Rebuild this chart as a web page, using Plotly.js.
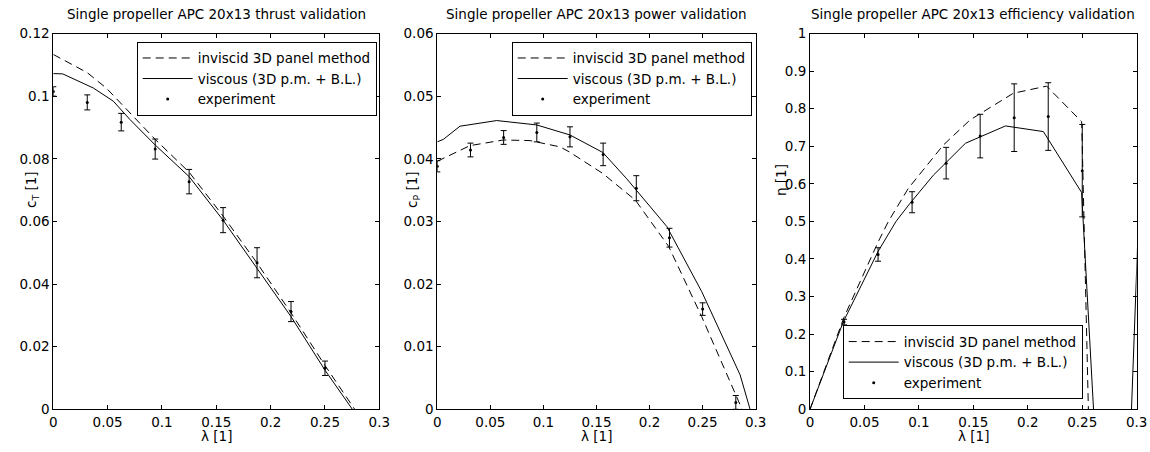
<!DOCTYPE html>
<html>
<head>
<meta charset="utf-8">
<script src="https://cdn.plot.ly/plotly-3.0.1.min.js"></script>
<style>html,body{margin:0;padding:0;background:#fff;}#chart{width:1150px;height:452px;}</style>
</head>
<body>
<div id="chart"></div>
<script>
// ---------- data ----------
var lamExp = [0, 0.03125, 0.0625, 0.09375, 0.125, 0.15625, 0.1875, 0.21875, 0.25, 0.28125];

// thrust coefficient
var ctExp = [0.1015, 0.098, 0.0917, 0.0831, 0.0727, 0.0604, 0.0468, 0.0312, 0.0131, null];
var ctErr = [0.0015, 0.0024, 0.0028, 0.0032, 0.0039, 0.0040, 0.0048, 0.0032, 0.0023, null];
var ctInvLam = [0, 0.0153, 0.03125, 0.049, 0.0625, 0.09375, 0.125, 0.15625, 0.1875, 0.21875, 0.25, 0.28125];
var ctInv = [0.1133, 0.1105, 0.1075, 0.1025, 0.0975, 0.0862, 0.0757, 0.0617, 0.0467, 0.0308, 0.0140, -0.0020];
var ctVisLam = [0, 0.0087, 0.0368, 0.0552, 0.0706, 0.09375, 0.125, 0.15625, 0.1875, 0.21875, 0.25, 0.28125];
var ctVis = [0.1072, 0.1071, 0.1026, 0.0984, 0.0925, 0.0844, 0.0743, 0.0604, 0.0450, 0.0296, 0.0125, -0.0030];

// power coefficient
var cpExp = [0.0388, 0.0414, 0.0434, 0.0442, 0.0435, 0.0407, 0.0353, 0.0274, 0.0160, 0.0011];
var cpErr = [0.0009, 0.0011, 0.0011, 0.0015, 0.0016, 0.0018, 0.0020, 0.0015, 0.0010, 0.0011];
var cpInvLam = [0, 0.0308, 0.0622, 0.0874, 0.1156, 0.1244, 0.1555, 0.1866, 0.218, 0.2491, 0.2805, 0.3];
var cpInv = [0.0396, 0.0421, 0.0430, 0.0429, 0.0419, 0.0411, 0.0377, 0.0334, 0.0260, 0.0148, 0.0026, -0.0050];
var cpVisLam = [0, 0.0057, 0.0214, 0.056, 0.0937, 0.1156, 0.125, 0.156, 0.1785, 0.2162, 0.2491, 0.2853, 0.3];
var cpVis = [0.0427, 0.0431, 0.0452, 0.0461, 0.0454, 0.0443, 0.0438, 0.0410, 0.0368, 0.0292, 0.0188, 0.0055, -0.0031];

// efficiency
var etaExp = [null, 0.232, 0.412, 0.551, 0.655, 0.727, 0.776, 0.779, 0.635, null];
var etaErr = [null, 0.0075, 0.018, 0.028, 0.042, 0.058, 0.090, 0.090, 0.123, null];
var etaInvLam = [0, 0.03125, 0.0625, 0.072, 0.0903, 0.1224, 0.147, 0.1867, 0.2173, 0.2495, 0.28125];
var etaInv = [0, 0.245, 0.445, 0.5, 0.588, 0.703, 0.77, 0.841, 0.860, 0.765, -3.2];
var etaVisLam = [0, 0.0306, 0.0625, 0.079, 0.0918, 0.1133, 0.1428, 0.1795, 0.2143, 0.2494, 0.28125, 0.3125];
var etaVis = [0, 0.233, 0.42, 0.5, 0.548, 0.623, 0.708, 0.754, 0.739, 0.577, -1.1, 1.36];

var names = ['inviscid 3D panel method', 'viscous (3D p.m. + B.L.)', 'experiment'];
var titles = ['Single propeller APC 20x13 thrust validation',
              'Single propeller APC 20x13 power validation',
              'Single propeller APC 20x13 efficiency validation'];

// ---------- styling ----------
var FONT = 'DejaVu Sans, Liberation Sans, sans-serif';
var FS = 13.5;
var W = 1150, H = 452;
function px(x) { return x / W; }
function py(y) { return 1 - y / H; }

function curves(xa, ya, leg, invL, inv, visL, vis, ex, er) {
  var sx = xa === 1 ? 'x' : 'x' + xa;
  var sy = ya === 1 ? 'y' : 'y' + ya;
  return [
    {x: invL, y: inv, xaxis: sx, yaxis: sy, type: 'scatter', mode: 'lines', name: names[0], legend: leg,
     line: {color: '#000', width: 1, dash: '8px,5px'}},
    {x: visL, y: vis, xaxis: sx, yaxis: sy, type: 'scatter', mode: 'lines', name: names[1], legend: leg,
     line: {color: '#000', width: 1}},
    {x: lamExp, y: ex, xaxis: sx, yaxis: sy, type: 'scatter', mode: 'markers', name: names[2], legend: leg,
     marker: {color: '#000', size: 3},
     error_y: {type: 'data', array: er, visible: true, color: '#000', thickness: 1, width: 3}}
  ];
}

var data = [].concat(
  curves(1, 1, 'legend', ctInvLam, ctInv, ctVisLam, ctVis, ctExp, ctErr),
  curves(2, 2, 'legend2', cpInvLam, cpInv, cpVisLam, cpVis, cpExp, cpErr),
  curves(3, 3, 'legend3', etaInvLam, etaInv, etaVisLam, etaVis, etaExp, etaErr)
);

var yDom = [py(409.3), py(33.5)];
function xax(dom) {
  return {domain: dom, range: [0, 0.3], dtick: 0.05, tick0: 0, ticks: 'inside', ticklen: 4,
          tickcolor: '#000', showline: true, linecolor: '#000', linewidth: 1, mirror: 'ticks',
          showgrid: false, zeroline: false, tickfont: {family: FONT, size: FS, color: '#000'}, fixedrange: true};
}
function yax(anchor, rng, dt) {
  return {domain: yDom, anchor: anchor, range: rng, dtick: dt, tick0: 0, ticks: 'inside', ticklen: 4,
          tickcolor: '#000', showline: true, linecolor: '#000', linewidth: 1, mirror: 'ticks',
          showgrid: false, zeroline: false, tickfont: {family: FONT, size: FS, color: '#000'}, fixedrange: true};
}
function legendAt(x, y, ya) {
  return {x: x, y: y, xanchor: 'right', yanchor: ya, xref: 'paper', yref: 'paper',
          bgcolor: '#fff', bordercolor: '#000', borderwidth: 1,
          font: {family: FONT, size: FS, color: '#000'}, itemwidth: 50, tracegroupgap: 0};
}

var dom1 = [px(53.3), px(379.3)], dom2 = [px(437.3), px(755.7)], dom3 = [px(810), px(1136.7)];

var annotations = [];
[[dom1, 0], [dom2, 1], [dom3, 2]].forEach(function (d) {
  var cx = (d[0][0] + d[0][1]) / 2;
  annotations.push({text: titles[d[1]], x: cx, y: py(14), xref: 'paper', yref: 'paper',
                    xanchor: 'center', yanchor: 'middle', showarrow: false,
                    font: {family: FONT, size: FS, color: '#000'}});
  annotations.push({text: '\u03bb [1]', x: cx, y: py(436), xref: 'paper', yref: 'paper',
                    xanchor: 'center', yanchor: 'middle', showarrow: false,
                    font: {family: FONT, size: FS, color: '#000'}});
});
var yTitles = [['c<sub>T</sub> [1]', 32, 190], ['c<sub>P</sub> [1]', 413, 190], ['\u03b7 [1]', 781, 180]];
yTitles.forEach(function (t) {
  annotations.push({text: t[0], x: px(t[1]), y: py(t[2]), xref: 'paper', yref: 'paper',
                    xanchor: 'center', yanchor: 'middle', textangle: -90, showarrow: false,
                    font: {family: FONT, size: FS, color: '#000'}});
});

var layout = {
  width: W, height: H, margin: {l: 0, r: 0, t: 0, b: 0},
  paper_bgcolor: '#fff', plot_bgcolor: '#fff',
  font: {family: FONT, size: FS, color: '#000'},
  xaxis: Object.assign(xax(dom1), {anchor: 'y'}),
  yaxis: yax('x', [0, 0.12], 0.02),
  xaxis2: Object.assign(xax(dom2), {anchor: 'y2'}),
  yaxis2: yax('x2', [0, 0.06], 0.01),
  xaxis3: Object.assign(xax(dom3), {anchor: 'y3'}),
  yaxis3: yax('x3', [0, 1], 0.1),
  legend: legendAt(px(376.7), py(41.7), 'top'),
  legend2: legendAt(px(751.7), py(41.7), 'top'),
  legend3: legendAt(px(1082.7), py(399.3), 'bottom'),
  annotations: annotations,
  showlegend: true
};

Plotly.newPlot('chart', data, layout, {staticPlot: true, displayModeBar: false});
</script>
</body>
</html>
